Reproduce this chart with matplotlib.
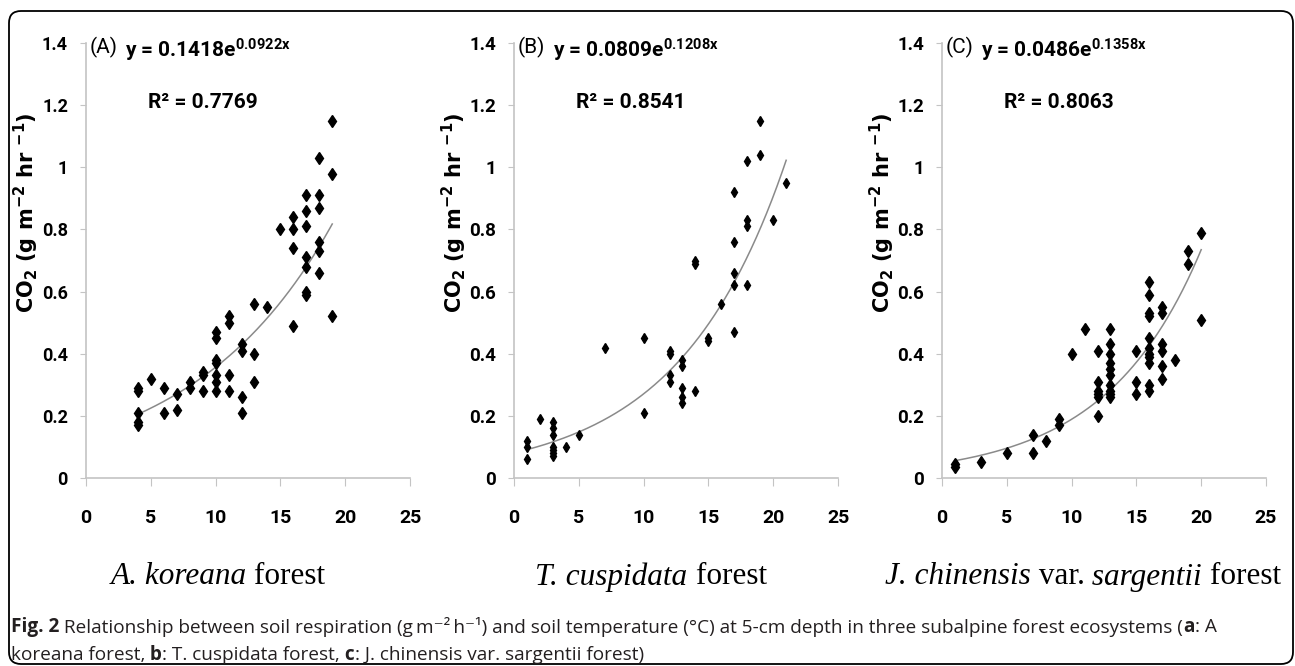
import numpy as np
import matplotlib
matplotlib.use('Agg')
import matplotlib.pyplot as plt
from matplotlib.patches import FancyBboxPatch

plt.rcParams['mathtext.default'] = 'regular'

# ---- data ----
# (A) A. koreana forest
temp_a = [4, 4, 4, 4, 4, 5, 6, 6, 7, 7, 8, 8, 9, 9, 9,
          10, 10, 10, 10, 10, 10, 10, 11, 11, 11, 11, 12, 12, 12, 12,
          13, 13, 13, 14, 15, 16, 16, 16, 16,
          17, 17, 17, 17, 17, 17, 17, 18, 18, 18, 18, 18, 18, 19, 19, 19]
co2_a = [0.29, 0.28, 0.21, 0.18, 0.17, 0.32, 0.29, 0.21, 0.27, 0.22, 0.31, 0.29, 0.34, 0.33, 0.28,
         0.47, 0.45, 0.38, 0.37, 0.33, 0.31, 0.28, 0.52, 0.50, 0.33, 0.28, 0.43, 0.41, 0.26, 0.21,
         0.56, 0.40, 0.31, 0.55, 0.80, 0.84, 0.80, 0.74, 0.49,
         0.91, 0.86, 0.81, 0.71, 0.68, 0.60, 0.59, 1.03, 0.91, 0.87, 0.76, 0.73, 0.66, 1.15, 0.98, 0.52]

# (B) T. cuspidata forest
temp_b = [1, 1, 1, 2, 3, 3, 3, 3, 3, 3, 3, 4, 5, 7, 10, 10,
          12, 12, 12, 12, 13, 13, 13, 13, 13, 14, 14, 14, 15, 15, 16,
          17, 17, 17, 17, 17, 18, 18, 18, 18, 19, 19, 20, 21]
co2_b = [0.12, 0.10, 0.06, 0.19, 0.18, 0.16, 0.14, 0.10, 0.09, 0.08, 0.07, 0.10, 0.14, 0.42, 0.45, 0.21,
         0.41, 0.40, 0.33, 0.31, 0.38, 0.36, 0.29, 0.26, 0.24, 0.70, 0.69, 0.28, 0.45, 0.44, 0.56,
         0.92, 0.76, 0.66, 0.62, 0.47, 1.02, 0.83, 0.81, 0.62, 1.15, 1.04, 0.83, 0.95]

# (C) J. chinensis var. sargentii forest
temp_c = [1, 1, 3, 5, 7, 7, 8, 9, 9, 10, 11,
          12, 12, 12, 12, 12, 12, 13, 13, 13, 13, 13, 13, 13, 13, 13, 13,
          15, 15, 15, 16, 16, 16, 16, 16, 16, 16, 16, 16, 16, 16,
          17, 17, 17, 17, 17, 17, 18, 19, 19, 20, 20]
co2_c = [0.045, 0.035, 0.05, 0.08, 0.14, 0.08, 0.12, 0.19, 0.17, 0.40, 0.48,
         0.41, 0.31, 0.28, 0.27, 0.26, 0.20, 0.48, 0.43, 0.40, 0.37, 0.35, 0.33, 0.30, 0.28, 0.27, 0.26,
         0.41, 0.31, 0.27, 0.63, 0.59, 0.53, 0.52, 0.45, 0.42, 0.40, 0.39, 0.37, 0.30, 0.28,
         0.55, 0.53, 0.43, 0.41, 0.36, 0.32, 0.38, 0.73, 0.69, 0.79, 0.51]

# exponential fits y = a*exp(b*x) printed on the chart
fit_a = (0.1418, 0.0922)
fit_b = (0.0809, 0.1208)
fit_c = (0.0486, 0.1358)
r2_values = ['0.7769', '0.8541', '0.8063']
panel_tags = ['(A)', '(B)', '(C)']

x_ticks = [0, 5, 10, 15, 20, 25]
y_ticks = [0, 0.2, 0.4, 0.6, 0.8, 1, 1.2, 1.4]
y_tick_labels = ['0', '0.2', '0.4', '0.6', '0.8', '1', '1.2', '1.4']

W, H = 1295, 666
NARROW = ['Roboto', 'DejaVu Sans']
SERIF = ['Liberation Serif', 'DejaVu Serif']
CAPFONT = ['Open Sans', 'DejaVu Sans']
AXIS_GRAY = '#c4c4c4'

fig = plt.figure(figsize=(W / 100, H / 100), dpi=100)
renderer = fig.canvas.get_renderer()

# rounded frame around the whole figure
frame = FancyBboxPatch((9, 2), 1284, 653, boxstyle='round,pad=0,rounding_size=12',
                       transform=None, fill=False, edgecolor='black', linewidth=1.3)
fig.patches.append(frame)

panels = [
    (86, temp_a, co2_a, fit_a, (4, 19), 6.5, 13),
    (514, temp_b, co2_b, fit_b, (1, 21), 5, 13.5),
    (942, temp_c, co2_c, fit_c, (1, 20), 6, 13.5),
]

for i, (left_px, xs, ys, fit, xr, ms, ysize) in enumerate(panels):
    ax = fig.add_axes([left_px / W, 1 - 478 / H, 324 / W, 435 / H])
    xx = np.linspace(xr[0], xr[1], 200)
    ax.plot(xx, fit[0] * np.exp(fit[1] * xx), color='#8a8a8a', lw=1.1, zorder=2)
    ax.plot(xs, ys, 'kd', ms=ms, zorder=3, clip_on=False)

    ax.set_xlim(0, 25)
    ax.set_ylim(0, 1.4)
    ax.set_xticks(x_ticks)
    ax.set_yticks(y_ticks)
    ax.set_yticklabels(y_tick_labels)
    for s in ['top', 'right']:
        ax.spines[s].set_visible(False)
    for s in ['left', 'bottom']:
        ax.spines[s].set_color(AXIS_GRAY)
        ax.spines[s].set_linewidth(1.2)
    ax.tick_params(axis='x', direction='out', length=6, color=AXIS_GRAY, pad=16, labelsize=14)
    ax.tick_params(axis='y', direction='out', length=4, color=AXIS_GRAY, pad=9, labelsize=ysize)
    for lbl in ax.get_xticklabels() + ax.get_yticklabels():
        lbl.set_fontfamily(NARROW)
        lbl.set_fontweight('bold')

    ax.set_ylabel(r'CO$_2$ (g m$^{-2}$ hr $^{-1}$)', fontsize=15, fontweight='bold',
                  fontfamily='DejaVu Sans')
    ax.yaxis.set_label_coords(-0.14, 0.61)

    ax.text(0.3, 1.387, panel_tags[i], fontsize=15, fontfamily=NARROW, va='center')
    eq = 'y = %.4fe$^{%.4fx}$' % fit
    ax.text(3.0, 1.375, eq, fontsize=15, fontweight='bold', fontfamily=NARROW, va='center')
    ax.text(4.8, 1.207, 'R\u00b2 = ' + r2_values[i], fontsize=15, fontweight='bold',
            fontfamily=NARROW, va='center')


def put_runs(x_px, y_px, runs, size, family, center=False, color='black'):
    arts = []
    cur = 0.0
    for s, weight, style in runs:
        t = fig.text(0, 1 - y_px / H, s, fontsize=size, fontfamily=family, fontweight=weight,
                     fontstyle=style, va='center', ha='left', color=color)
        w = t.get_window_extent(renderer).width
        arts.append((t, cur))
        cur += w
    start = x_px - cur / 2 if center else x_px
    for t, off in arts:
        t.set_x((start + off) / W)


# forest names under the panels
put_runs(218, 577, [('A. koreana', 'normal', 'italic'), (' forest', 'normal', 'normal')],
         22.5, SERIF, center=True)
put_runs(651, 577, [('T. cuspidata', 'normal', 'italic'), (' forest', 'normal', 'normal')],
         22.5, SERIF, center=True)
put_runs(1083, 577, [('J. chinensis', 'normal', 'italic'), (' var.', 'normal', 'normal'),
                     (' sargentii', 'normal', 'italic'), (' forest', 'normal', 'normal')],
         22.5, SERIF, center=True)

# caption
cap_color = '#231f20'
put_runs(11, 627, [('Fig. 2', 'bold', 'normal'),
                   (' Relationship between soil respiration (g\u2009m\u207b\u00b2\u2009h\u207b\u00b9) and soil '
                    'temperature (\u00b0C) at 5-cm depth in three subalpine forest ecosystems (',
                    'normal', 'normal'),
                   ('a', 'bold', 'normal'), (': A', 'normal', 'normal')],
         13.7, CAPFONT, color=cap_color)
put_runs(11, 655, [('koreana forest,', 'normal', 'normal'), (' b', 'bold', 'normal'),
                   (': T. cuspidata forest,', 'normal', 'normal'), (' c', 'bold', 'normal'),
                   (': J. chinensis var. sargentii forest)', 'normal', 'normal')],
         13.7, CAPFONT, color=cap_color)

fig.savefig('out.png', dpi=100)
